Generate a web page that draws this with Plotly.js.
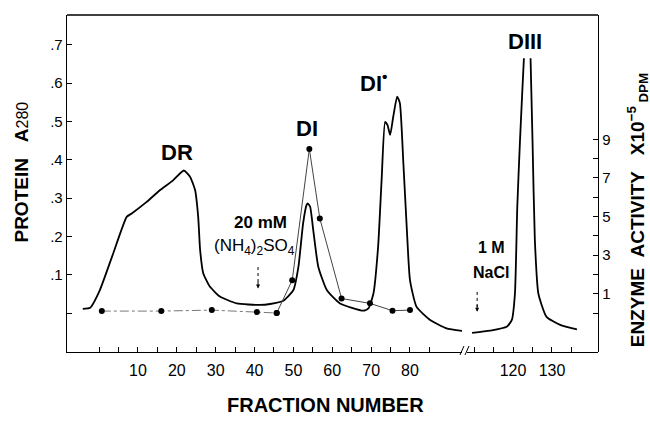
<!DOCTYPE html>
<html><head><meta charset="utf-8">
<script src="https://cdn.plot.ly/plotly-3.0.1.min.js"></script>
<style>html,body{margin:0;padding:0;background:#fff}</style>
</head><body><div id="chart" style="width:650px;height:426px"></div>
<script>
// Protein A280, fractions before the axis break
const protFracA = [-4.2,-2.3,0.2,3.65,7.1,8.4,12.25,15.7,19.1,21.8,23.4,24.7,25.5,26.0,26.8,28.5,31.1,35.4,41.4,44.0,47.4,50.0,51.3,52.5,53.4,53.7,54.3,55.1,56.4,58.6,62.0,68.0,69.3,70.6,71.8,72.7,73.6,74.2,74.9,75.7,76.7,77.4,78.3,79.2,80.0,81.7,85.2,89.4,93.6];
const protA_A   = [0.011,0.014,0.06,0.156,0.251,0.26,0.29,0.321,0.347,0.372,0.356,0.321,0.251,0.164,0.104,0.069,0.043,0.025,0.021,0.0235,0.032,0.06,0.121,0.234,0.282,0.286,0.278,0.217,0.121,0.06,0.025,0.006,0.012,0.051,0.173,0.347,0.499,0.491,0.465,0.513,0.565,0.548,0.391,0.217,0.086,0.016,-0.018,-0.04,-0.047];
// Protein A280, fractions after the axis break (DIII peak runs off-scale)
const protFracB = [109.5,114.1,118.4,119.7,120.5,121.1,121.8,122.4,122.8,null,124.5,125.0,125.6,126.5,128.6,132.1,136.4];
const protA_B   = [-0.052,-0.046,-0.036,-0.018,0.051,0.278,0.452,0.582,0.665,null,0.665,0.452,0.191,0.051,-0.01,-0.031,-0.043];
// Enzyme activity x10^-5 DPM
const enzFrac = [0.7,16.0,29.0,40.6,45.7,49.7,54.1,56.8,62.4,69.7,75.5,80.0];
const enzAct  = [0.1,0.1,0.15,0.05,0.0,1.7,8.5,4.9,0.75,0.5,0.12,0.15];
// Ticks
const xTicksA = [0,5,10,15,20,25,30,35,40,45,50,55,60,65,70,75,80,85];
const xTextA  = ['','','10','','20','','30','','40','','50','','60','','70','','80',''];
const xTicksB = [110,115,120,125,130,135];
const xTextB  = ['','','120','','130',''];
const yTicks = [0,0.1,0.2,0.3,0.4,0.5,0.6,0.7];
const yText  = ['','.1','.2','.3','.4','.5','.6','.7'];
const y2Ticks = [0,1,2,3,4,5,6,7,8,9];
const y2Text  = ['','1','','3','','5','','7','','9'];

const F = 'Liberation Sans, Arial, Helvetica, sans-serif';
const split = 5;
const traces = [
  {x: protFracA, y: protA_A, xaxis:'x', yaxis:'y', mode:'lines', line:{color:'#000', width:1.8, shape:'spline', smoothing:0.5}, hoverinfo:'skip'},
  {x: protFracB, y: protA_B, xaxis:'x2', yaxis:'y', mode:'lines', connectgaps:false, line:{color:'#000', width:1.8, shape:'spline', smoothing:0.5}, hoverinfo:'skip'},
  {x: enzFrac.slice(0, split), y: enzAct.slice(0, split), xaxis:'x', yaxis:'y2', mode:'lines+markers', line:{color:'#777', width:1, dash:'dashdot'}, marker:{color:'#000', size:6}},
  {x: enzFrac.slice(split-1), y: enzAct.slice(split-1), xaxis:'x', yaxis:'y2', mode:'lines+markers', line:{color:'#444', width:1}, marker:{color:'#000', size:6}}
];

const axBase = {showgrid:false, zeroline:false, showline:true, linecolor:'#000', linewidth:1.3,
  ticks:'inside', ticklen:5, tickwidth:1, tickcolor:'#000', tickfont:{family:F, size:16, color:'#000'}, fixedrange:true};

const layout = {
  width:650, height:426, margin:{l:67, r:52, t:15, b:74}, showlegend:false,
  paper_bgcolor:'#fff', plot_bgcolor:'#fff', font:{family:F, color:'#000'},
  xaxis: Object.assign({}, axBase, {domain:[0,0.7439], range:[-8.26,93.39], anchor:'y', tickmode:'array', tickvals:xTicksA, ticktext:xTextA, ticklabelstandoff:3}),
  xaxis2: Object.assign({}, axBase, {domain:[0.7533,1], range:[108.2,141.8], anchor:'y', tickmode:'array', tickvals:xTicksB, ticktext:xTextB, ticklabelstandoff:3}),
  yaxis: Object.assign({}, axBase, {range:[-0.1018,0.778], anchor:'x', tickmode:'array', tickvals:yTicks, ticktext:yText, tickfont:{family:F, size:15, color:'#000'}}),
  yaxis2: Object.assign({}, axBase, {range:[-2.02,15.44], overlaying:'y', side:'right', anchor:'free', position:1, tickmode:'array', tickvals:y2Ticks, ticktext:y2Text, tickfont:{family:F, size:15, color:'#000'}}),
  shapes: [
    {type:'line', xref:'paper', yref:'paper', x0:0, x1:1, y0:1, y1:1, line:{color:'#000', width:1.3}},
    {type:'line', xref:'paper', yref:'paper', x0:0.7401, x1:0.7476, y0:-0.0089, y1:0.0178, line:{color:'#000', width:1}},
    {type:'line', xref:'paper', yref:'paper', x0:0.7495, x1:0.7571, y0:-0.0089, y1:0.0178, line:{color:'#000', width:1}},
    {type:'line', xref:'x', yref:'y', x0:40.9, x1:40.9, y0:0.12, y1:0.075, line:{color:'#000', width:1, dash:'dot'}},
    {type:'line', xref:'x2', yref:'y', x0:110.8, x1:110.8, y0:0.055, y1:0.015, line:{color:'#000', width:1, dash:'dot'}}
  ],
  annotations: [
    {xref:'x', yref:'y', x:40.9, y:0.064, ax:40.9, ay:0.085, axref:'x', ayref:'y', text:'', showarrow:true, arrowhead:2, arrowsize:0.8, arrowwidth:1, arrowcolor:'#000'},
    {xref:'x2', yref:'y', x:110.8, y:0.003, ax:110.8, ay:0.025, axref:'x2', ayref:'y', text:'', showarrow:true, arrowhead:2, arrowsize:0.8, arrowwidth:1, arrowcolor:'#000'},
    {xref:'x', yref:'y', x:20.0, y:0.418, text:'<b>DR</b>', showarrow:false, font:{family:F, size:22}},
    {xref:'x', yref:'y', x:53.4, y:0.482, text:'<b>DI</b>', showarrow:false, font:{family:F, size:22}},
    {xref:'x', yref:'y', x:70.5, y:0.603, text:'<b>DI</b><sup><b>•</b></sup>', showarrow:false, font:{family:F, size:22}},
    {xref:'x2', yref:'y', x:123.1, y:0.709, text:'<b>DIII</b>', showarrow:false, font:{family:F, size:22}},
    {xref:'x', yref:'y', x:41.6, y:0.2376, text:'<b>20 mM</b>', showarrow:false, font:{family:F, size:17}},
    {xref:'x', yref:'y', x:39.9, y:0.172, text:'(NH<sub>4</sub>)<sub>2</sub>SO<sub>4</sub>', showarrow:false, font:{family:F, size:17}},
    {xref:'x2', yref:'y', x:114.4, y:0.17, text:'<b>1 M</b>', showarrow:false, font:{family:F, size:16}},
    {xref:'x2', yref:'y', x:114.4, y:0.107, text:'<b>NaCl</b>', showarrow:false, font:{family:F, size:16}},
    {xref:'paper', yref:'paper', x:-0.0866, y:0.5326, text:'<b>PROTEIN&nbsp;&nbsp;&nbsp;A</b><span style="font-size:16px">280</span>', textangle:-90, showarrow:false, xanchor:'center', yanchor:'middle', font:{family:F, size:19}},
    {xref:'paper', yref:'paper', x:0.486, y:-0.157, text:'<b>FRACTION NUMBER</b>', showarrow:false, xanchor:'center', yanchor:'middle', font:{family:F, size:20}},
    {xref:'paper', yref:'paper', x:1.075, y:0.42, text:'<b>ENZYME&nbsp;&nbsp;ACTIVITY&nbsp;&nbsp;&nbsp;X10</b><sup><b>−5</b></sup><sub><b>&nbsp;DPM</b></sub>', textangle:-90, showarrow:false, xanchor:'center', yanchor:'middle', font:{family:F, size:19}}
  ]
};
Plotly.newPlot('chart', traces, layout, {staticPlot:true, displayModeBar:false});
</script></body></html>
